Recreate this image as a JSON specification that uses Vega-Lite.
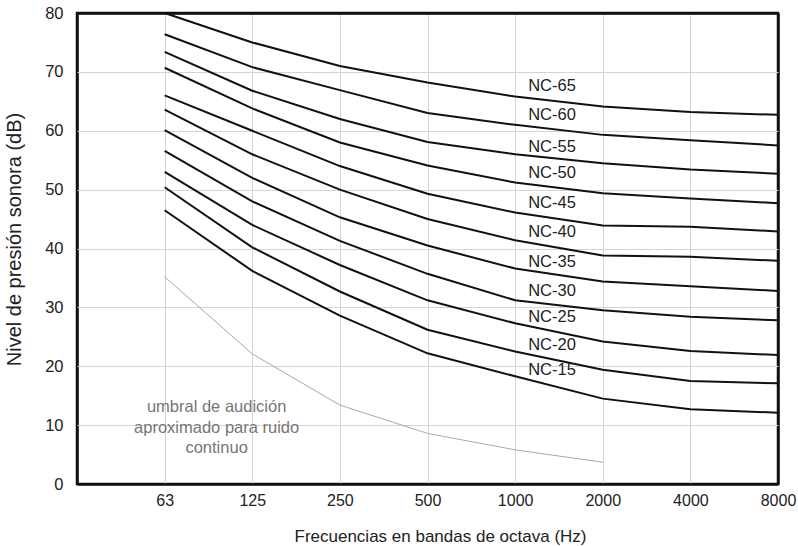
{
  "$schema": "https://vega.github.io/schema/vega-lite/v6.json",
  "width": 701,
  "height": 471,
  "autosize": "none",
  "padding": {"left": 77, "top": 13, "right": 20, "bottom": 62},
  "background": "white",
  "view": {"stroke": "#111111", "strokeWidth": 2.5, "fill": "white"},
  "config": {
    "font": "Liberation Sans",
    "axis": {"gridOpacity": 1, "domain": false, "ticks": false, "labelColor": "#222", "titleColor": "#222", "labelFont": "Liberation Sans", "titleFont": "Liberation Sans", "titleFontWeight": "normal"}
  },
  "datasets": {
    "nc": [
      {"curva": "NC-65", "f": "63", "db": 80}, {"curva": "NC-65", "f": "125", "db": 75}, {"curva": "NC-65", "f": "250", "db": 71}, {"curva": "NC-65", "f": "500", "db": 68.2}, {"curva": "NC-65", "f": "1000", "db": 65.8}, {"curva": "NC-65", "f": "2000", "db": 64.1}, {"curva": "NC-65", "f": "4000", "db": 63.2}, {"curva": "NC-65", "f": "8000", "db": 62.7},
      {"curva": "NC-60", "f": "63", "db": 76.4}, {"curva": "NC-60", "f": "125", "db": 70.8}, {"curva": "NC-60", "f": "250", "db": 66.9}, {"curva": "NC-60", "f": "500", "db": 63}, {"curva": "NC-60", "f": "1000", "db": 61}, {"curva": "NC-60", "f": "2000", "db": 59.3}, {"curva": "NC-60", "f": "4000", "db": 58.4}, {"curva": "NC-60", "f": "8000", "db": 57.5},
      {"curva": "NC-55", "f": "63", "db": 73.4}, {"curva": "NC-55", "f": "125", "db": 66.8}, {"curva": "NC-55", "f": "250", "db": 62}, {"curva": "NC-55", "f": "500", "db": 58.1}, {"curva": "NC-55", "f": "1000", "db": 56}, {"curva": "NC-55", "f": "2000", "db": 54.5}, {"curva": "NC-55", "f": "4000", "db": 53.4}, {"curva": "NC-55", "f": "8000", "db": 52.7},
      {"curva": "NC-50", "f": "63", "db": 70.7}, {"curva": "NC-50", "f": "125", "db": 63.8}, {"curva": "NC-50", "f": "250", "db": 58}, {"curva": "NC-50", "f": "500", "db": 54.1}, {"curva": "NC-50", "f": "1000", "db": 51.2}, {"curva": "NC-50", "f": "2000", "db": 49.4}, {"curva": "NC-50", "f": "4000", "db": 48.5}, {"curva": "NC-50", "f": "8000", "db": 47.7},
      {"curva": "NC-45", "f": "63", "db": 66}, {"curva": "NC-45", "f": "125", "db": 60}, {"curva": "NC-45", "f": "250", "db": 54}, {"curva": "NC-45", "f": "500", "db": 49.3}, {"curva": "NC-45", "f": "1000", "db": 46.1}, {"curva": "NC-45", "f": "2000", "db": 43.9}, {"curva": "NC-45", "f": "4000", "db": 43.7}, {"curva": "NC-45", "f": "8000", "db": 42.9},
      {"curva": "NC-40", "f": "63", "db": 63.6}, {"curva": "NC-40", "f": "125", "db": 56}, {"curva": "NC-40", "f": "250", "db": 50}, {"curva": "NC-40", "f": "500", "db": 45}, {"curva": "NC-40", "f": "1000", "db": 41.4}, {"curva": "NC-40", "f": "2000", "db": 38.8}, {"curva": "NC-40", "f": "4000", "db": 38.6}, {"curva": "NC-40", "f": "8000", "db": 37.9},
      {"curva": "NC-35", "f": "63", "db": 60.1}, {"curva": "NC-35", "f": "125", "db": 52}, {"curva": "NC-35", "f": "250", "db": 45.3}, {"curva": "NC-35", "f": "500", "db": 40.5}, {"curva": "NC-35", "f": "1000", "db": 36.6}, {"curva": "NC-35", "f": "2000", "db": 34.4}, {"curva": "NC-35", "f": "4000", "db": 33.6}, {"curva": "NC-35", "f": "8000", "db": 32.8},
      {"curva": "NC-30", "f": "63", "db": 56.6}, {"curva": "NC-30", "f": "125", "db": 48}, {"curva": "NC-30", "f": "250", "db": 41.3}, {"curva": "NC-30", "f": "500", "db": 35.7}, {"curva": "NC-30", "f": "1000", "db": 31.2}, {"curva": "NC-30", "f": "2000", "db": 29.5}, {"curva": "NC-30", "f": "4000", "db": 28.4}, {"curva": "NC-30", "f": "8000", "db": 27.8},
      {"curva": "NC-25", "f": "63", "db": 53}, {"curva": "NC-25", "f": "125", "db": 44}, {"curva": "NC-25", "f": "250", "db": 37.2}, {"curva": "NC-25", "f": "500", "db": 31.2}, {"curva": "NC-25", "f": "1000", "db": 27.3}, {"curva": "NC-25", "f": "2000", "db": 24.2}, {"curva": "NC-25", "f": "4000", "db": 22.6}, {"curva": "NC-25", "f": "8000", "db": 21.9},
      {"curva": "NC-20", "f": "63", "db": 50.4}, {"curva": "NC-20", "f": "125", "db": 40.2}, {"curva": "NC-20", "f": "250", "db": 32.7}, {"curva": "NC-20", "f": "500", "db": 26.2}, {"curva": "NC-20", "f": "1000", "db": 22.5}, {"curva": "NC-20", "f": "2000", "db": 19.4}, {"curva": "NC-20", "f": "4000", "db": 17.5}, {"curva": "NC-20", "f": "8000", "db": 17.1},
      {"curva": "NC-15", "f": "63", "db": 46.5}, {"curva": "NC-15", "f": "125", "db": 36.2}, {"curva": "NC-15", "f": "250", "db": 28.6}, {"curva": "NC-15", "f": "500", "db": 22.2}, {"curva": "NC-15", "f": "1000", "db": 18.3}, {"curva": "NC-15", "f": "2000", "db": 14.5}, {"curva": "NC-15", "f": "4000", "db": 12.7}, {"curva": "NC-15", "f": "8000", "db": 12.1}
    ],
    "umbral": [
      {"f": "63", "db": 35.2}, {"f": "125", "db": 22.1}, {"f": "250", "db": 13.4}, {"f": "500", "db": 8.6}, {"f": "1000", "db": 5.8}, {"f": "2000", "db": 3.7}
    ],
    "etiquetas": [
      {"texto": "NC-65", "f": "1000", "db": 67.6},
      {"texto": "NC-60", "f": "1000", "db": 62.7},
      {"texto": "NC-55", "f": "1000", "db": 57.3},
      {"texto": "NC-50", "f": "1000", "db": 52.8},
      {"texto": "NC-45", "f": "1000", "db": 47.7},
      {"texto": "NC-40", "f": "1000", "db": 42.75},
      {"texto": "NC-35", "f": "1000", "db": 37.75},
      {"texto": "NC-30", "f": "1000", "db": 32.7},
      {"texto": "NC-25", "f": "1000", "db": 28.4},
      {"texto": "NC-20", "f": "1000", "db": 23.6},
      {"texto": "NC-15", "f": "1000", "db": 19.4}
    ],
    "nota": [
      {"texto": ["umbral de audición", "aproximado para ruido", "continuo"], "f": "63", "db": 13.1}
    ]
  },
  "encoding": {
    "x": {
      "field": "f", "type": "ordinal",
      "scale": {"type": "point", "domain": ["", "63", "125", "250", "500", "1000", "2000", "4000", "8000"], "padding": 0},
      "axis": {
        "title": "Frecuencias en bandas de octava (Hz)", "labelAngle": 0, "labelFontSize": 16, "labelPadding": 8, "titleFontSize": 17, "titlePadding": 20, "titleX": 363, "grid": true,
        "gridColor": {"condition": {"test": "datum.value === '' || datum.value === '8000'", "value": "#111111"}, "value": "#d4d4d4"},
        "gridWidth": {"condition": {"test": "datum.value === '' || datum.value === '8000'", "value": 2.5}, "value": 1}
      }
    },
    "y": {
      "field": "db", "type": "quantitative",
      "scale": {"domain": [0, 80], "nice": false, "zero": true},
      "axis": {
        "title": "Nivel de presión sonora (dB)", "values": [0, 10, 20, 30, 40, 50, 60, 70, 80], "labelFontSize": 16.5, "labelPadding": 14, "titleFontSize": 20, "titlePadding": 20, "titleY": 226, "grid": true,
        "gridColor": {"condition": {"test": "datum.value === 0 || datum.value === 80", "value": "#111111"}, "value": "#d4d4d4"},
        "gridWidth": {"condition": {"test": "datum.value === 0 || datum.value === 80", "value": 2.5}, "value": 1}
      }
    }
  },
  "layer": [
    {"data": {"name": "umbral"}, "mark": {"type": "line", "color": "#a8a8a8", "strokeWidth": 1}},
    {"data": {"name": "nc"}, "mark": {"type": "line", "color": "#111", "strokeWidth": 2}, "encoding": {"detail": {"field": "curva"}}},
    {"data": {"name": "etiquetas"}, "mark": {"type": "text", "align": "left", "baseline": "middle", "dx": 13, "fontSize": 16.5, "color": "#222"}, "encoding": {"text": {"field": "texto"}}},
    {"data": {"name": "nota"}, "mark": {"type": "text", "align": "center", "baseline": "middle", "dx": 52, "fontSize": 16.5, "lineHeight": 20.7, "color": "#767676"}, "encoding": {"text": {"field": "texto"}}}
  ]
}
